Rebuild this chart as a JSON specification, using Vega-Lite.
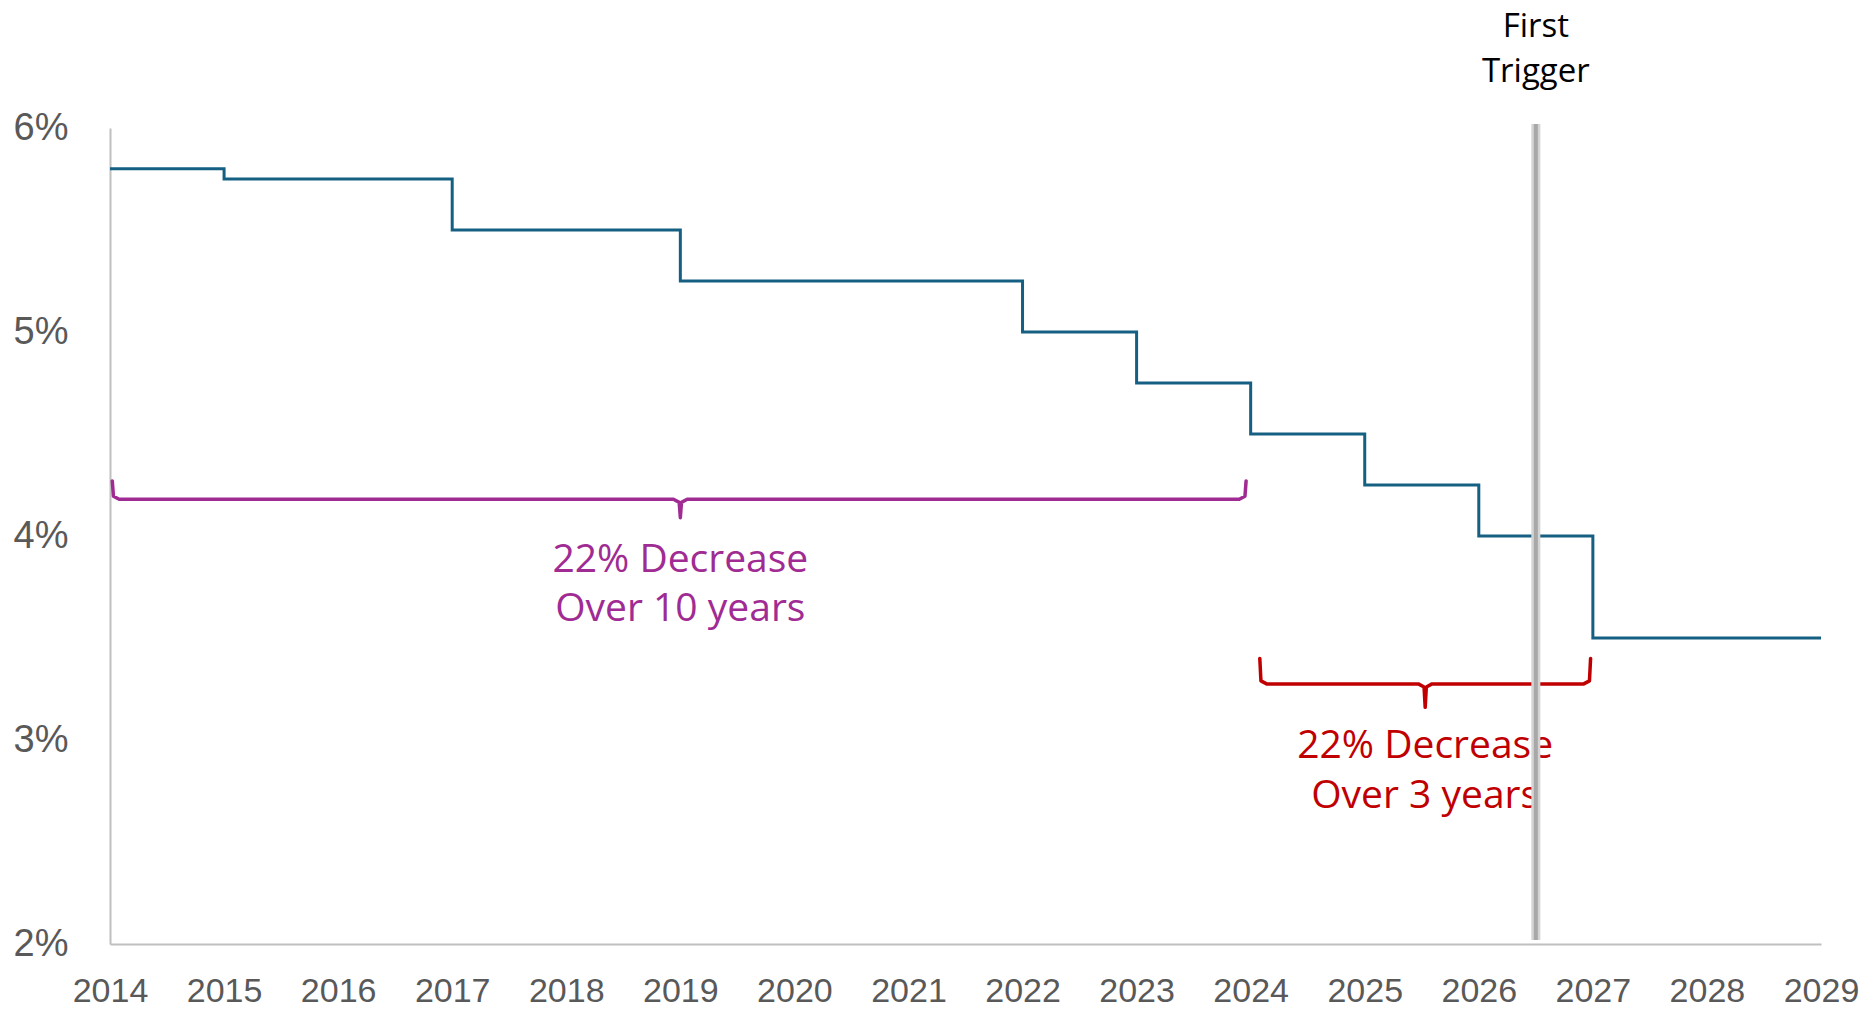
{
  "$schema": "https://vega.github.io/schema/vega-lite/v6.json",
  "autosize": "none",
  "width": 1711,
  "height": 816,
  "padding": {"left": 110, "top": 128, "right": 49, "bottom": 65},
  "background": "white",
  "config": {"view": {"stroke": null}},
  "datasets": {
    "steps": [
      {"year": 2014, "rate": 0.058},
      {"year": 2015, "rate": 0.0575},
      {"year": 2017, "rate": 0.055},
      {"year": 2019, "rate": 0.0525},
      {"year": 2022, "rate": 0.05},
      {"year": 2023, "rate": 0.0475},
      {"year": 2024, "rate": 0.045},
      {"year": 2025, "rate": 0.0425},
      {"year": 2026, "rate": 0.04},
      {"year": 2027, "rate": 0.035},
      {"year": 2029, "rate": 0.035}
    ],
    "braces": [
      {"group": "10yr", "order": 1, "year": 2014.02, "rate": 0.0427},
      {"group": "10yr", "order": 2, "year": 2014.03, "rate": 0.04195},
      {"group": "10yr", "order": 3, "year": 2014.08, "rate": 0.0418},
      {"group": "10yr", "order": 4, "year": 2018.94, "rate": 0.0418},
      {"group": "10yr", "order": 5, "year": 2018.99, "rate": 0.04165},
      {"group": "10yr", "order": 6, "year": 2019.0, "rate": 0.0409},
      {"group": "10yr", "order": 7, "year": 2019.01, "rate": 0.04165},
      {"group": "10yr", "order": 8, "year": 2019.06, "rate": 0.0418},
      {"group": "10yr", "order": 9, "year": 2023.9, "rate": 0.0418},
      {"group": "10yr", "order": 10, "year": 2023.95, "rate": 0.04195},
      {"group": "10yr", "order": 11, "year": 2023.96, "rate": 0.0427},
      {"group": "3yr", "order": 1, "year": 2024.08, "rate": 0.034},
      {"group": "3yr", "order": 2, "year": 2024.09, "rate": 0.0329},
      {"group": "3yr", "order": 3, "year": 2024.14, "rate": 0.03275},
      {"group": "3yr", "order": 4, "year": 2025.47, "rate": 0.03275},
      {"group": "3yr", "order": 5, "year": 2025.52, "rate": 0.0326},
      {"group": "3yr", "order": 6, "year": 2025.53, "rate": 0.0316},
      {"group": "3yr", "order": 7, "year": 2025.54, "rate": 0.0326},
      {"group": "3yr", "order": 8, "year": 2025.59, "rate": 0.03275},
      {"group": "3yr", "order": 9, "year": 2026.92, "rate": 0.03275},
      {"group": "3yr", "order": 10, "year": 2026.97, "rate": 0.0329},
      {"group": "3yr", "order": 11, "year": 2026.98, "rate": 0.034}
    ],
    "labels": [
      {"group": "10yr", "year": 2019.0, "rate": 0.0388, "text": "22% Decrease"},
      {"group": "10yr", "year": 2019.0, "rate": 0.0364, "text": "Over 10 years"},
      {"group": "3yr", "year": 2025.53, "rate": 0.0297, "text": "22% Decrease"},
      {"group": "3yr", "year": 2025.53, "rate": 0.02725, "text": "Over 3 years"}
    ],
    "trigger_labels": [
      {"group": "trigger", "year": 2026.5, "rate": 0.06497, "text": "First"},
      {"group": "trigger", "year": 2026.5, "rate": 0.06275, "text": "Trigger"}
    ],
    "trigger": [
      {"year": 2026.5, "top": 0.0602, "bottom": 0.0202}
    ]
  },
  "layer": [
    {
      "data": {"name": "steps"},
      "mark": {"type": "line", "interpolate": "step-after", "color": "#156082", "strokeWidth": 3, "clip": false},
      "encoding": {
        "x": {
          "field": "year", "type": "quantitative",
          "scale": {"domain": [2014, 2029], "nice": false, "zero": false},
          "axis": {
            "title": null, "values": [2014,2015,2016,2017,2018,2019,2020,2021,2022,2023,2024,2025,2026,2027,2028,2029],
            "format": "d", "grid": false, "ticks": false, "tickSize": 0,
            "domainColor": "#bfbfbf", "domainWidth": 2,
            "labelFont": "Liberation Sans", "labelFontSize": 34, "labelColor": "#595959",
            "labelPadding": 30, "labelFlush": false, "labelOverlap": false
          }
        },
        "y": {
          "field": "rate", "type": "quantitative",
          "scale": {"domain": [0.02, 0.06], "nice": false, "zero": false},
          "axis": {
            "title": null, "values": [0.02,0.03,0.04,0.05,0.06], "format": ".0%",
            "grid": false, "ticks": false, "tickSize": 0,
            "domainColor": "#bfbfbf", "domainWidth": 2,
            "labelFont": "Liberation Sans", "labelFontSize": 38, "labelColor": "#595959",
            "labelPadding": 42, "labelFlush": false, "labelOverlap": false
          }
        }
      }
    },
    {
      "data": {"name": "braces"},
      "mark": {"type": "line", "strokeWidth": 3.5, "strokeJoin": "round", "strokeCap": "round", "clip": false},
      "encoding": {
        "x": {"field": "year", "type": "quantitative"},
        "y": {"field": "rate", "type": "quantitative"},
        "order": {"field": "order", "type": "quantitative"},
        "color": {"field": "group", "type": "nominal", "scale": {"domain": ["10yr", "3yr", "trigger"], "range": ["#A02B93", "#C00000", "#000000"]}, "legend": null}
      }
    },
    {
      "data": {"name": "labels"},
      "mark": {"type": "text", "font": "Open Sans", "fontSize": 39, "baseline": "middle", "align": "center"},
      "encoding": {
        "x": {"field": "year", "type": "quantitative"},
        "y": {"field": "rate", "type": "quantitative"},
        "text": {"field": "text", "type": "nominal"},
        "color": {"field": "group", "type": "nominal", "scale": {"domain": ["10yr", "3yr", "trigger"], "range": ["#A02B93", "#C00000", "#000000"]}, "legend": null}
      }
    },
    {
      "data": {"name": "trigger_labels"},
      "mark": {"type": "text", "font": "Open Sans", "fontSize": 33, "baseline": "middle", "align": "center"},
      "encoding": {
        "x": {"field": "year", "type": "quantitative"},
        "y": {"field": "rate", "type": "quantitative"},
        "text": {"field": "text", "type": "nominal"},
        "color": {"field": "group", "type": "nominal", "scale": {"domain": ["10yr", "3yr", "trigger"], "range": ["#A02B93", "#C00000", "#000000"]}, "legend": null}
      }
    },
    {
      "data": {"name": "trigger"},
      "mark": {"type": "rule", "color": "#d4d4d4", "strokeWidth": 9, "clip": false},
      "encoding": {
        "x": {"field": "year", "type": "quantitative"},
        "y": {"field": "top", "type": "quantitative"},
        "y2": {"field": "bottom"}
      }
    },
    {
      "data": {"name": "trigger"},
      "mark": {"type": "rule", "color": "#a8a8a8", "strokeWidth": 4, "clip": false},
      "encoding": {
        "x": {"field": "year", "type": "quantitative"},
        "y": {"field": "top", "type": "quantitative"},
        "y2": {"field": "bottom"}
      }
    }
  ]
}
